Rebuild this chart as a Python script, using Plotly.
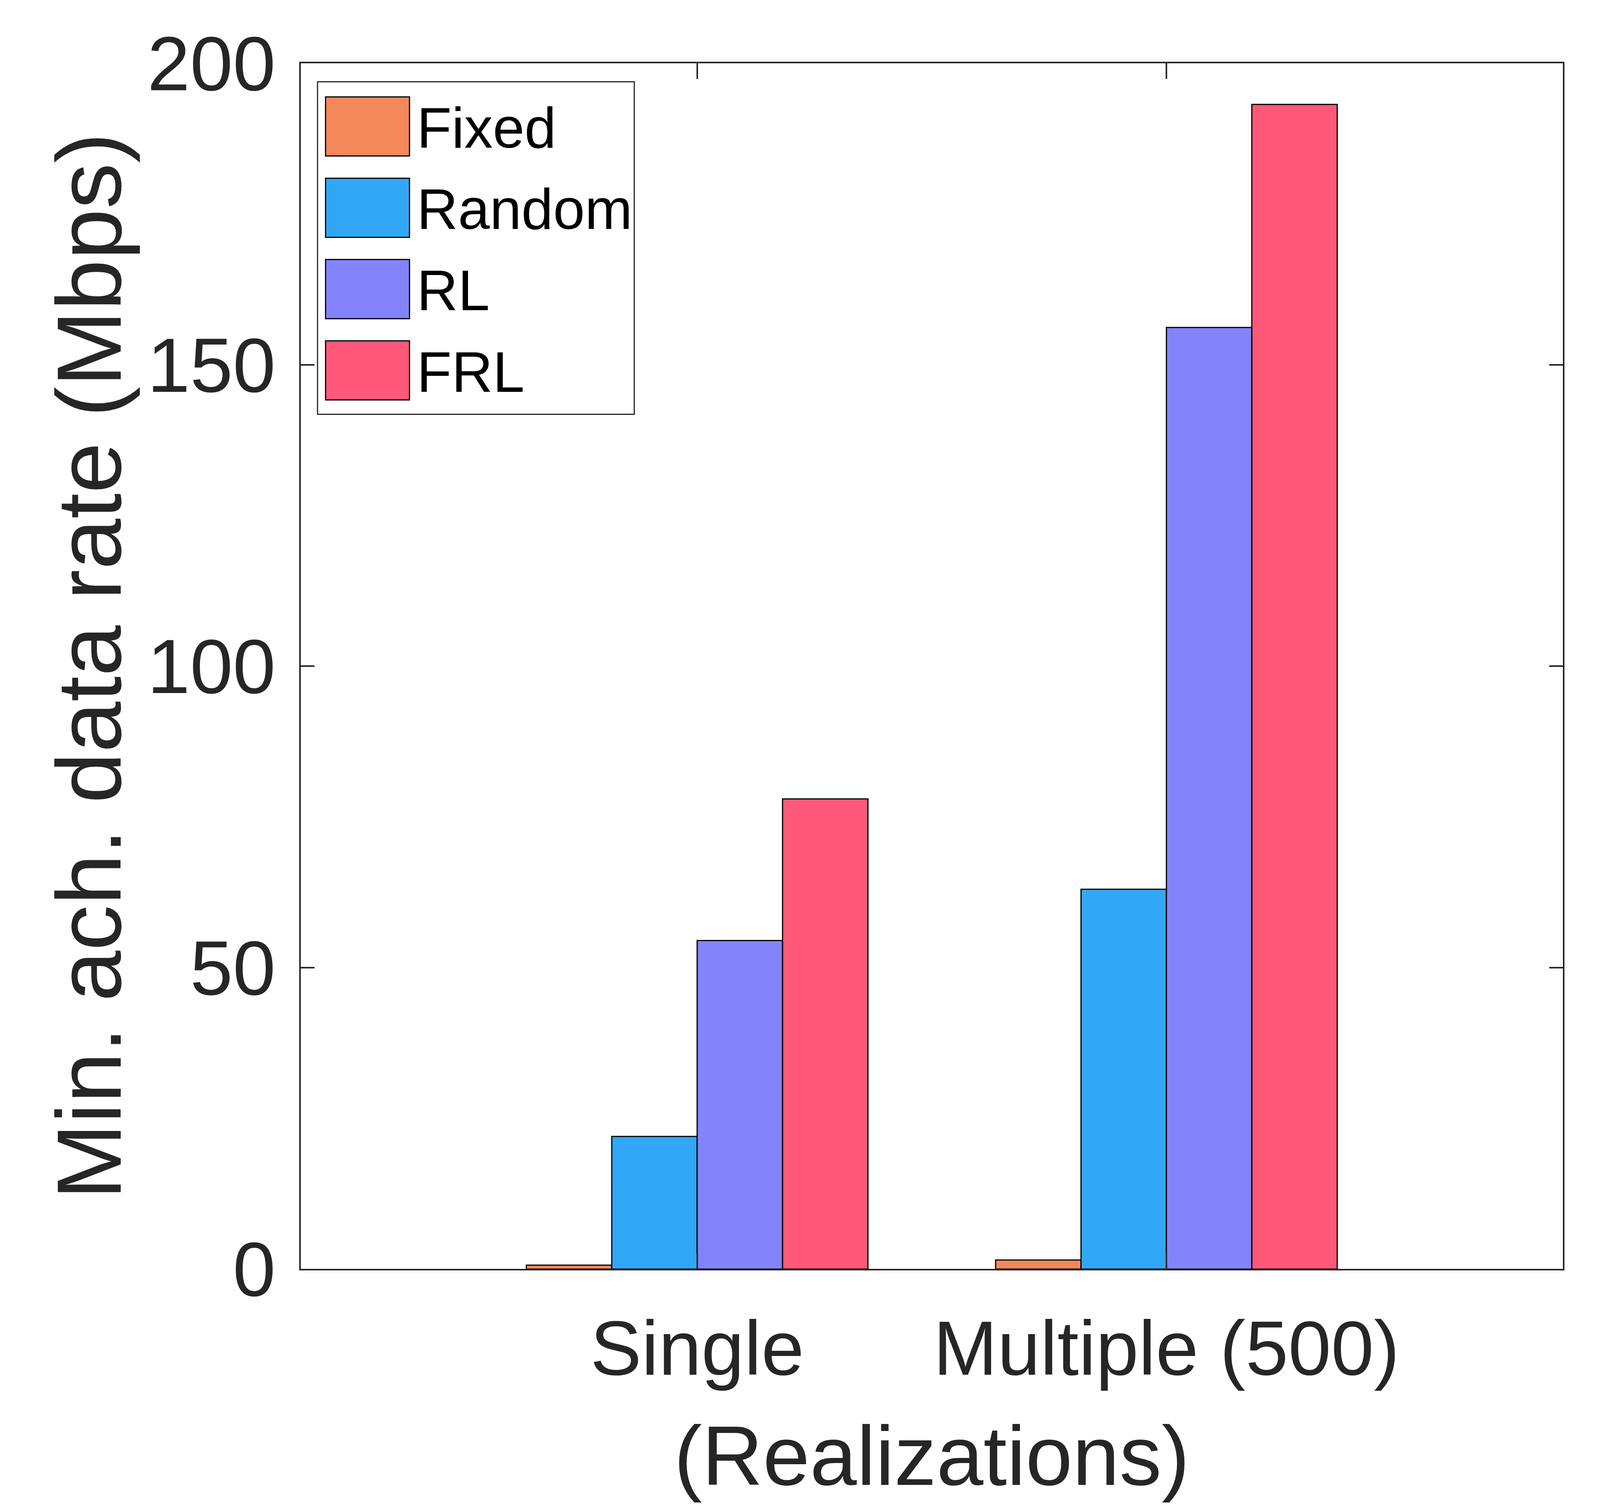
import plotly.graph_objects as go

# ---- data ----
categories = ["Single", "Multiple (500)"]
cat_pos = [1, 2]
series_names = ["Fixed", "Random", "RL", "FRL"]
fixed_vals = [0.65, 1.5]
random_vals = [22.0, 63.0]
rl_vals = [54.5, 156.2]
frl_vals = [78.0, 193.2]
series_values = [fixed_vals, random_vals, rl_vals, frl_vals]
series_colors = ["#F5885A", "#31A7F7", "#8383FC", "#FF5878"]
y_ticks = [0, 50, 100, 150, 200]
x_title = "(Realizations)"
y_title = "Min. ach. data rate (Mbps)"

# layout designed in reference pixels (4765 x 3855) and expressed as fractions,
# so the figure fills whatever window it is opened in
REF_W, REF_H = 4765, 3855
AX_L, AX_R, AX_T, AX_B = 890, 4663, 155, 3254
FONT = "Liberation Sans"
TXT = "#262626"
TICK_FS = 197     # tick label font size
TITLE_FS = 216    # x title font size
YTITLE_FS = 234   # y title font size
LEG_FS = 146      # legend font size


def fx(p):
    return p / REF_W


def fy(p):
    return 1 - p / REF_H


fig = go.Figure()
for name, vals, col in zip(series_names, series_values, series_colors):
    fig.add_trace(go.Bar(
        x=cat_pos, y=vals, name=name,
        marker=dict(color=col, line=dict(color="black", width=3)),
        showlegend=False,
    ))

# custom legend with large swatches like the reference
shapes = [dict(type="rect", xref="paper", yref="paper",
               x0=fx(940), x1=fx(1887), y0=fy(1057), y1=fy(202),
               line=dict(color=TXT, width=3), fillcolor="white", layer="above")]
annotations = []
for i, (name, col) in enumerate(zip(series_names, series_colors)):
    top = 241 + i * 209
    shapes.append(dict(type="rect", xref="paper", yref="paper",
                       x0=fx(964), x1=fx(1215), y0=fy(top + 152), y1=fy(top),
                       line=dict(color="black", width=3), fillcolor=col, layer="above"))
    annotations.append(dict(xref="paper", yref="paper", x=fx(1234), y=fy(top + 80),
                            text=name, showarrow=False, xanchor="left", yanchor="middle",
                            font=dict(family=FONT, size=LEG_FS, color="black")))

# y-axis title (placed as rotated text so it sits where the reference has it)
annotations.append(dict(xref="paper", yref="paper", x=0.054, y=(fy(AX_T) + fy(AX_B)) / 2,
                        text=y_title, textangle=-90, showarrow=False,
                        xanchor="center", yanchor="middle",
                        font=dict(family=FONT, size=YTITLE_FS, color=TXT)))

fig.update_layout(
    autosize=True,
    margin=dict(l=0, r=0, t=0, b=0, pad=0, autoexpand=False),
    paper_bgcolor="white", plot_bgcolor="white",
    barmode="group", bargap=0.272, bargroupgap=0,
    font=dict(family=FONT, size=TICK_FS, color=TXT),
    shapes=shapes, annotations=annotations,
    showlegend=False,
)
fig.update_xaxes(
    domain=[fx(AX_L), fx(AX_R)],
    range=[0.1554, 2.8446], tickvals=cat_pos, ticktext=categories,
    ticks="inside", ticklen=40, tickwidth=4, tickcolor=TXT,
    showline=True, linecolor=TXT, linewidth=4, mirror="ticks",
    showgrid=False, zeroline=False, ticklabelstandoff=30,
    tickfont=dict(family=FONT, size=TICK_FS, color=TXT),
    title=dict(text=x_title, font=dict(family=FONT, size=TITLE_FS, color=TXT), standoff=118),
    automargin=False,
)
fig.update_yaxes(
    domain=[fy(AX_B), fy(AX_T)],
    range=[0, 200], tickvals=y_ticks,
    ticks="inside", ticklen=35, tickwidth=4, tickcolor=TXT,
    showline=True, linecolor=TXT, linewidth=4, mirror="ticks",
    showgrid=False, zeroline=False, ticklabelstandoff=21,
    tickfont=dict(family=FONT, size=TICK_FS, color=TXT),
    automargin=False,
)

fig.write_html("out.html")
